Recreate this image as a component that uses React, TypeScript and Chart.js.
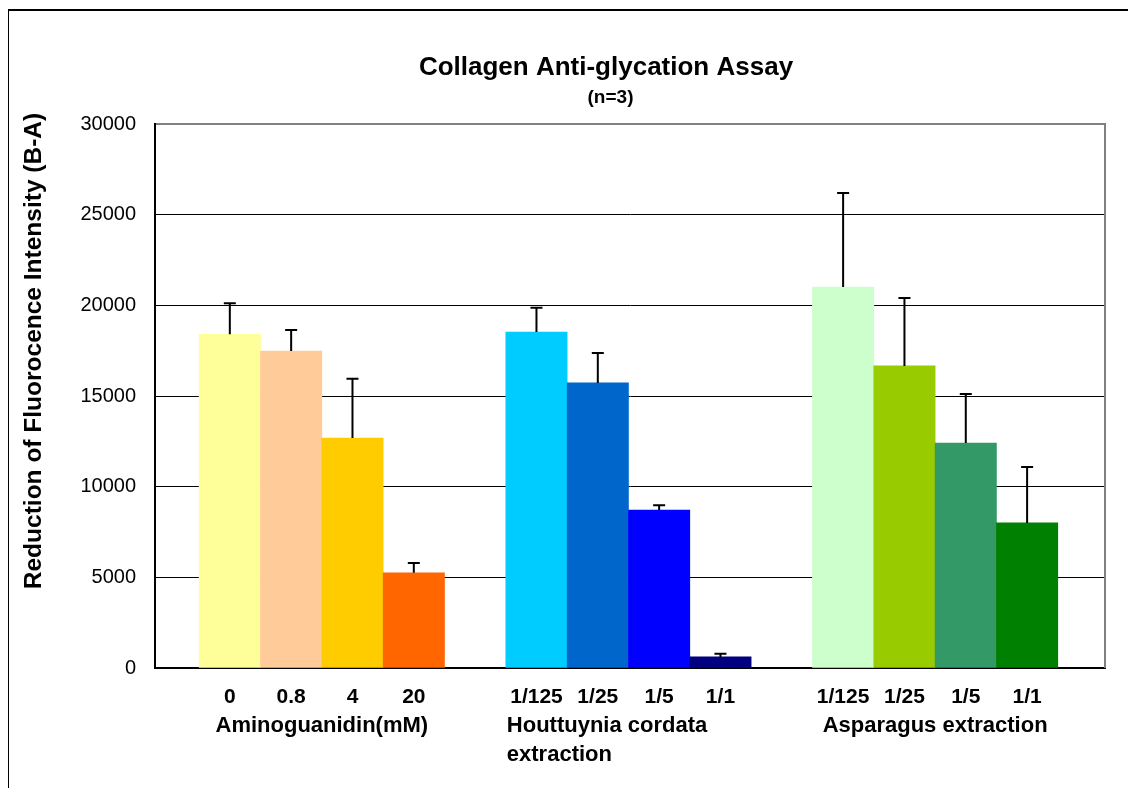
import React, { useEffect, useRef } from 'react';
import { Chart, registerables } from 'chart.js';

Chart.register(...registerables);

// ---------- data ----------
const chartTitle = 'Collagen Anti-glycation Assay';
const chartSubtitle = '(n=3)';
const yAxisTitle = 'Reduction of Fluorocence Intensity (B-A)';

const tickLabels = ['0', '0.8', '4', '20', '1/125', '1/25', '1/5', '1/1', '1/125', '1/25', '1/5', '1/1'];
const groupLabels = [['Aminoguanidin(mM)'], ['Houttuynia cordata', 'extraction'], ['Asparagus extraction']];
const means = [18400, 17480, 12680, 5250, 18530, 15720, 8710, 610, 21010, 16660, 12410, 8000];
const errors = [1710, 1160, 3270, 540, 1330, 1650, 260, 180, 5190, 3740, 2700, 3090];
const barColors = [
  '#FFFF99', '#FFCC99', '#FFCC00', '#FF6600',
  '#00CCFF', '#0066CC', '#0000FF', '#000080',
  '#CCFFCC', '#99CC00', '#339966', '#008000',
];
const yMin = 0;
const yMax = 30000;
const yStep = 5000;

// ---------- derived ----------
const groupSize = tickLabels.length / groupLabels.length;
const xPositions = tickLabels.map((_, i) => Math.floor(i / groupSize) * (groupSize + 1) + (i % groupSize));

const FONT = "'Liberation Sans', Arial, Helvetica, sans-serif";

const decorPlugin = {
  id: 'decor',
  afterDatasetsDraw(chart: any) {
    const { ctx, chartArea, scales } = chart;
    const ys = scales.y;
    const meta = chart.getDatasetMeta(0);
    ctx.save();
    ctx.strokeStyle = '#000';
    ctx.lineWidth = 2;
    meta.data.forEach((bar: any, i: number) => {
      const top = ys.getPixelForValue(means[i] + errors[i]);
      ctx.beginPath();
      ctx.moveTo(bar.x, bar.y);
      ctx.lineTo(bar.x, top);
      ctx.moveTo(bar.x - 6, top);
      ctx.lineTo(bar.x + 6, top);
      ctx.stroke();
    });
    // right frame of plot area
    ctx.strokeStyle = '#808080';
    ctx.lineWidth = 2;
    ctx.beginPath();
    ctx.moveTo(chartArea.right, chartArea.top - 1);
    ctx.lineTo(chartArea.right, chartArea.bottom);
    ctx.stroke();
    ctx.restore();
  },
  afterDraw(chart: any) {
    const { ctx, scales } = chart;
    const xs = scales.x;
    ctx.save();
    ctx.fillStyle = '#000';
    // title
    ctx.textAlign = 'center';
    ctx.textBaseline = 'alphabetic';
    ctx.font = `bold 26px ${FONT}`;
    ctx.fillText(chartTitle, 597, 64);
    ctx.font = `bold 19px ${FONT}`;
    ctx.fillText(chartSubtitle, 601.5, 92);
    // y title
    ctx.save();
    ctx.translate(25.5, 340);
    ctx.rotate(-Math.PI / 2);
    ctx.font = `bold 24.5px ${FONT}`;
    ctx.textBaseline = 'middle';
    ctx.textAlign = 'center';
    ctx.fillText(yAxisTitle, 0, 0);
    ctx.restore();
    // group labels
    ctx.font = `bold 22px ${FONT}`;
    ctx.textBaseline = 'alphabetic';
    groupLabels.forEach((lines, g) => {
      const first = g * (groupSize + 1);
      const center = xs.getPixelForValue(first + (groupSize - 1) / 2);
      const left = xs.getPixelForValue(first - 0.5);
      lines.forEach((line, li) => {
        const y = 721 + li * 29;
        if (lines.length > 1) {
          ctx.textAlign = 'left';
          ctx.fillText(line, left + 1, y);
        } else {
          ctx.textAlign = 'center';
          ctx.fillText(line, center, y);
        }
      });
    });
    ctx.restore();
  },
};

export default function App() {
  const canvasRef = useRef<HTMLCanvasElement | null>(null);

  useEffect(() => {
    document.body.style.overflow = 'hidden';
    const canvas = canvasRef.current;
    if (!canvas) return;
    const chart = new Chart(canvas, {
      type: 'bar',
      data: {
        datasets: [
          {
            data: xPositions.map((x, i) => ({ x, y: means[i] })),
            backgroundColor: barColors,
            borderWidth: 0,
            barPercentage: 1,
            categoryPercentage: 1,
          },
        ],
      },
      options: {
        responsive: false,
        animation: false,
        devicePixelRatio: 1,
        layout: { padding: { left: 0, right: 23, top: 113, bottom: 0 } },
        plugins: {
          legend: { display: false },
          tooltip: { enabled: false },
          title: { display: false },
        },
        scales: {
          x: {
            type: 'linear',
            offset: false,
            min: -1.22,
            max: 14.27,
            grid: { display: false, drawTicks: false, offset: false },
            border: { display: true, color: '#000', width: 2 },
            afterBuildTicks: (s: any) => {
              s.ticks = xPositions.map((v) => ({ value: v }));
            },
            afterFit: (s: any) => {
              s.height = 121;
            },
            ticks: {
              autoSkip: false,
              maxRotation: 0,
              minRotation: 0,
              padding: 17,
              color: '#000',
              font: { family: FONT, size: 21, weight: 'bold' },
              callback: (_v: any, i: number) => tickLabels[i],
            },
          },
          y: {
            min: yMin,
            max: yMax,
            afterFit: (s: any) => {
              s.width = 146;
            },
            ticks: {
              stepSize: yStep,
              padding: 19,
              color: '#000',
              font: { family: FONT, size: 20 },
              callback: (v: any) => String(v),
            },
            grid: {
              drawTicks: false,
              color: (c: any) => (c.tick && c.tick.value === yMax ? '#808080' : '#000'),
              lineWidth: (c: any) => (c.tick && c.tick.value === yMax ? 2 : 1),
            },
            border: { color: '#000', width: 2 },
          },
        },
      } as any,
      plugins: [decorPlugin],
    });
    return () => chart.destroy();
  }, []);

  return (
    <div
      style={{
        position: 'relative',
        left: -1,
        top: 1,
        width: 1121,
        height: 780,
        boxSizing: 'border-box',
        borderLeft: '2px solid #000',
        borderTop: '2px solid #000',
        background: '#fff',
      }}
    >
      <canvas ref={canvasRef} width={1119} height={778} style={{ display: 'block', width: 1119, height: 778 }} />
    </div>
  );
}
